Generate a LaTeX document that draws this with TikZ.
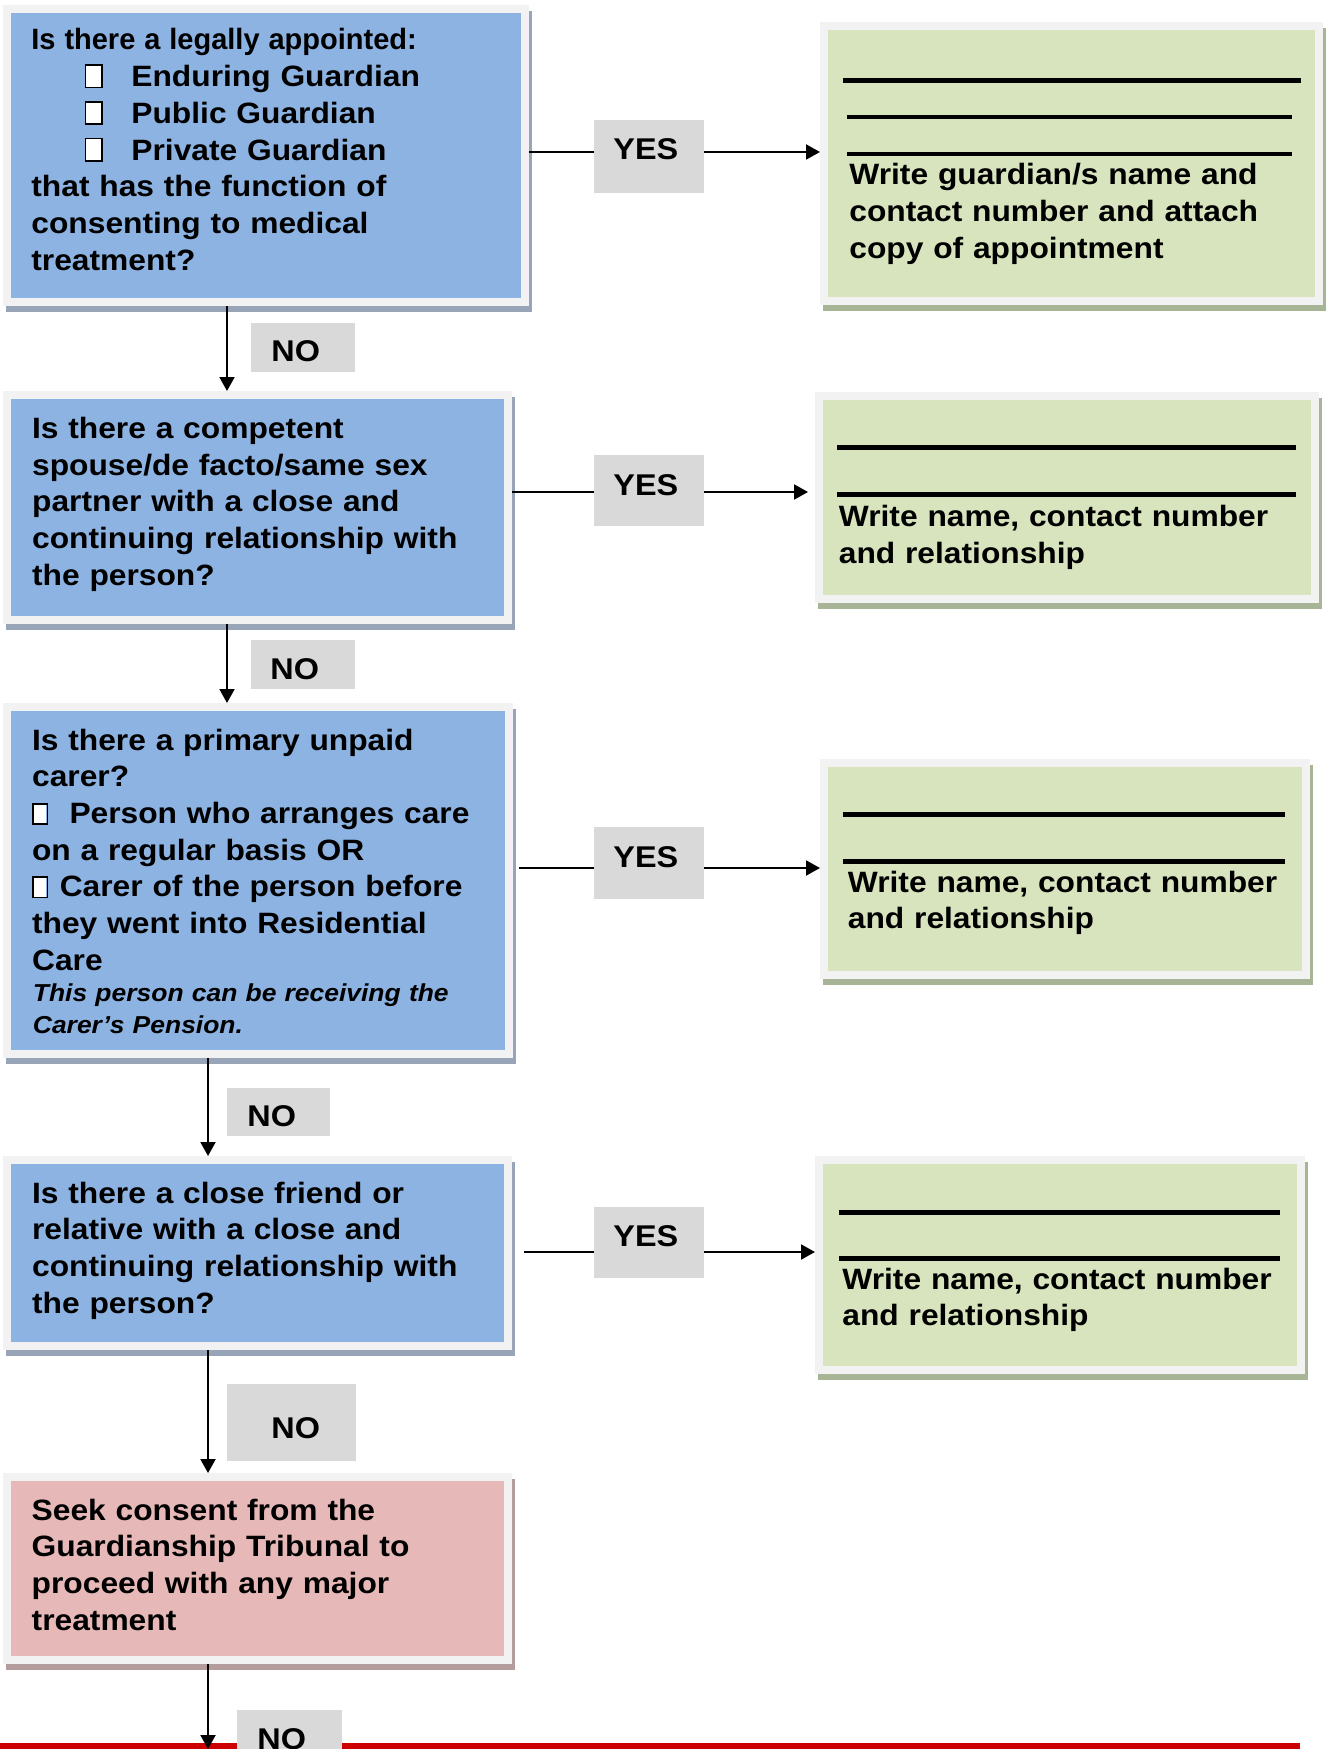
\documentclass[tikz,border=0pt]{standalone}
\usepackage{fontspec}
\usepackage{graphicx}
\setmainfont{Liberation Sans}[FakeStretch=1.08]
\usetikzlibrary{arrows.meta,fit,calc}
\definecolor{blueF}{HTML}{8DB3E2}
\definecolor{greenF}{HTML}{D7E4BD}
\definecolor{pinkF}{HTML}{E6B9B8}
\definecolor{frameC}{HTML}{F2F2F2}
\definecolor{labelC}{HTML}{D9D9D9}
\definecolor{shB}{HTML}{98A4B8}
\definecolor{shG}{HTML}{A8B496}
\definecolor{shP}{HTML}{B49C9C}
\definecolor{redL}{HTML}{CC0000}
\newcommand\cbx[2]{{\setlength\fboxsep{0pt}\setlength\fboxrule{0.8pt}\fcolorbox{black}{white}{\rule{0pt}{#2}\hspace*{#1}}}}
\begin{document}
\begin{tikzpicture}[x=0.5pt,y=-0.5pt,
  frame/.style={rectangle, inner sep=0pt, line width=4pt, draw=frameC},
  qbox/.style={frame, fill=blueF, preaction={draw=shB, fill=shB, line width=4pt, transform canvas={xshift=1.5pt,yshift=-3pt}}},
  abox/.style={frame, fill=greenF, preaction={draw=shG, fill=shG, line width=4pt, transform canvas={xshift=1.5pt,yshift=-3pt}}},
  tbox/.style={frame, fill=pinkF, preaction={draw=shP, fill=shP, line width=4pt, transform canvas={xshift=1.5pt,yshift=-3pt}}},
  lab/.style={rectangle, inner sep=0pt, fill=labelC},
  txt/.style={anchor=base west, inner sep=0pt, text width=250pt, align=left, font=\bfseries\fontsize{14.7}{18.35}\selectfont},
  itxt/.style={anchor=base west, inner sep=0pt, text width=250pt, align=left, font=\bfseries\itshape\fontsize{12.25}{15.8}\selectfont},
  ltxt/.style={anchor=base west, inner sep=0pt, font=\bfseries\fontsize{15}{18}\selectfont},
  conn/.style={line width=1pt},
  arr/.style={conn, -{Triangle[length=7pt,width=7.5pt]}},
  fline/.style={line width=2.5pt},
  tline/.style={line width=2pt},
]
\useasboundingbox (0,0) rectangle (1326,1749);
\clip (0,0) rectangle (1326,1749);

% question boxes
\node[qbox, fit={(7,9) (525,302)}] (q1) {};
\node[qbox, fit={(7,395) (508,620)}] (q2) {};
\node[qbox, fit={(7,707) (509,1054)}] (q3) {};
\node[qbox, fit={(7,1160) (508,1346)}] (q4) {};
\node[tbox, fit={(7,1477) (508,1660)}] (t) {};

% answer boxes
\node[abox, fit={(824,26) (1319,301)}] (a1) {};
\node[abox, fit={(819,396) (1315,599)}] (a2) {};
\node[abox, fit={(824,763) (1306,975)}] (a3) {};
\node[abox, fit={(819,1160) (1301,1370)}] (a4) {};

% texts of question boxes
\node[txt] (q1t) at (31,50) {\scalebox{0.913}[1]{Is there a legally appointed:}\\
\hspace*{26.7pt}\cbx{7.4pt}{10.4pt}\hspace{14.3pt}Enduring Guardian\\
\hspace*{26.7pt}\cbx{7.4pt}{10.4pt}\hspace{14.3pt}Public Guardian\\
\hspace*{26.7pt}\cbx{7.4pt}{10.4pt}\hspace{14.3pt}Private Guardian\\
that has the function of\\
consenting to medical\\
treatment?};
\node[txt] (q2t) at (31.7,438.5) {Is there a competent\\
spouse/de facto/same sex\\
partner with a close and\\
continuing relationship with\\
the person?};
\node[txt] (q3t) at (31.7,750) {Is there a primary unpaid\\
carer?\\
\cbx{6.4pt}{9.4pt}\hspace{10.7pt}Person who arranges care\\
on a regular basis OR\\
\cbx{6.4pt}{9.4pt}\hspace{5.85pt}Carer of the person before\\
they went into Residential\\
Care};
\node[itxt] (q3i) at (32.5,1001.7) {This person can be receiving the\\
Carer’s Pension.};
\node[txt] (q4t) at (31.7,1203) {Is there a close friend or\\
relative with a close and\\
continuing relationship with\\
the person?};
\node[txt] (tt) at (31.3,1520) {Seek consent from the\\
Guardianship Tribunal to\\
proceed with any major\\
treatment};

% answer texts and write-in lines
\draw[fline] (843,80.5) -- (1301,80.5);
\draw[tline] (847,117.5) -- (1292,117.5);
\draw[tline] (847,154.5) -- (1292,154.5);
\node[txt] (a1t) at (849,185) {Write guardian/s name and\\
contact number and attach\\
copy of appointment};
\draw[fline] (837,447.5) -- (1296,447.5);
\draw[fline] (837,494.5) -- (1296,494.5);
\node[txt] (a2t) at (838.5,526.7) {Write name, contact number\\
and relationship};
\draw[fline] (843,814) -- (1285,814);
\draw[fline] (843,861) -- (1285,861);
\node[txt] (a3t) at (847.5,892) {Write name, contact number\\
and relationship};
\draw[fline] (839,1212) -- (1280,1212);
\draw[fline] (839,1258) -- (1280,1258);
\node[txt] (a4t) at (842,1289) {Write name, contact number\\
and relationship};

% red bottom line
\fill[redL] (0,1743) rectangle (1300,1752);

% YES / NO labels
\node[lab, fit={(594,120) (704,193)}] (y1) {};
\node[lab, fit={(594,455) (704,526)}] (y2) {};
\node[lab, fit={(594,827) (704,899)}] (y3) {};
\node[lab, fit={(594,1207) (704,1278)}] (y4) {};
\node[lab, fit={(251,323) (355,372)}] (n1) {};
\node[lab, fit={(251,640) (355,689)}] (n2) {};
\node[lab, fit={(227,1088) (330,1136)}] (n3) {};
\node[lab, fit={(227,1384) (356,1461)}] (n4) {};
\node[lab, fit={(237,1710) (342,1760)}] (n5) {};
\node[ltxt] (y1t) at (613,160) {YES};
\node[ltxt] (y2t) at (613,495) {YES};
\node[ltxt] (y3t) at (613,867) {YES};
\node[ltxt] (y4t) at (613,1246) {YES};
\node[ltxt] (n1t) at (271,362) {NO};
\node[ltxt] (n2t) at (270,679) {NO};
\node[ltxt] (n3t) at (247,1126) {NO};
\node[ltxt] (n4t) at (271,1438) {NO};
\node[ltxt] (n5t) at (257,1749) {NO};

% row coordinates
\coordinate (r1) at (0,152);
\coordinate (r2) at (0,492);
\coordinate (r3) at (0,868);
\coordinate (r4) at (0,1252);
\coordinate (cx1) at (227,0);
\coordinate (cx2) at (208,0);
\coordinate (bend) at (208,1749);

% horizontal connectors
\draw[conn] (q1.east |- r1) -- (y1.west |- r1);
\draw[arr] (y1.east |- r1) -- (a1.west |- r1);
\draw[conn] (q2.east |- r2) -- (y2.west |- r2);
\draw[arr, shorten >=3.5pt] (y2.east |- r2) -- (a2.west |- r2);
\draw[conn, shorten <=3pt] (q3.east |- r3) -- (y3.west |- r3);
\draw[arr] (y3.east |- r3) -- (a3.west |- r3);
\draw[conn, shorten <=6pt] (q4.east |- r4) -- (y4.west |- r4);
\draw[arr] (y4.east |- r4) -- (a4.west |- r4);

% vertical connectors
\draw[arr] (cx1 |- q1.south) -- (cx1 |- q2.north);
\draw[arr] (cx1 |- q2.south) -- (cx1 |- q3.north);
\draw[arr] (cx2 |- q3.south) -- (cx2 |- q4.north);
\draw[arr] (cx2 |- q4.south) -- (cx2 |- t.north);
\draw[arr] (cx2 |- t.south) -- (bend);
\end{tikzpicture}
\end{document}
